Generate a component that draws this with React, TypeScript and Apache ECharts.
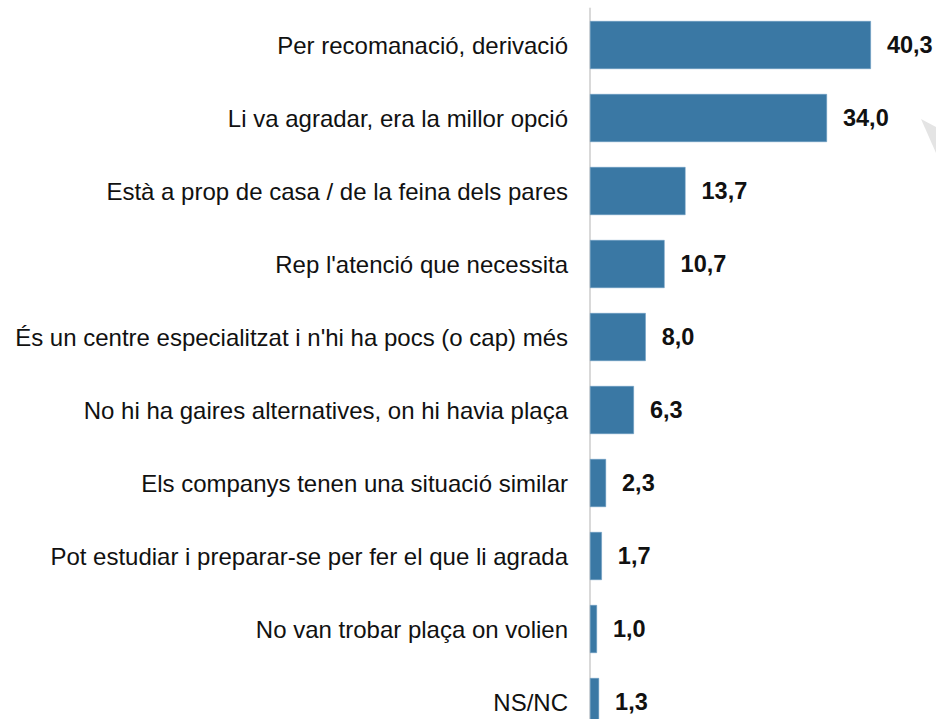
import React, { useEffect, useRef } from "react";
import * as echarts from "echarts";

const categories = [
  "Per recomanació, derivació",
  "Li va agradar, era la millor opció",
  "Està a prop de casa / de la feina dels pares",
  "Rep l'atenció que necessita",
  "És un centre especialitzat i n'hi ha pocs (o cap) més",
  "No hi ha gaires alternatives, on hi havia plaça",
  "Els companys tenen una situació similar",
  "Pot estudiar i preparar-se per fer el que li agrada",
  "No van trobar plaça on volien",
  "NS/NC",
];
const values = [40.3, 34.0, 13.7, 10.7, 8.0, 6.3, 2.3, 1.7, 1.0, 1.3];

export default function App() {
  const ref = useRef<HTMLDivElement>(null);
  useEffect(() => {
    if (!ref.current) return;
    const chart = echarts.init(ref.current, undefined, { renderer: "svg" });
    chart.setOption({
      animation: false,
      grid: {
        left: 590,
        top: 8.5,
        width: 348.5,
        height: 730,
        containLabel: false,
        outerBoundsMode: "none",
      },
      xAxis: {
        type: "value",
        min: 0,
        max: 50,
        show: false,
        splitLine: { show: false },
      },
      yAxis: {
        type: "category",
        inverse: true,
        data: categories,
        axisLine: { show: true, lineStyle: { color: "#d9d9d9", width: 2 } },
        axisTick: { show: false },
        axisLabel: {
          margin: 22,
          fontFamily: "Liberation Sans, Arial, sans-serif",
          fontSize: 24,
          color: "#111",
        },
      },
      series: [
        {
          type: "bar",
          data: values,
          barWidth: 48,
          itemStyle: { color: "#3a78a4", borderColor: "#6a9cc3", borderWidth: 0.5 },
          label: {
            show: true,
            position: "right",
            distance: 16,
            fontFamily: "Liberation Sans, Arial, sans-serif",
            fontSize: 23.5,
            fontWeight: "bold",
            color: "#111",
            formatter: (p: any) => p.value.toFixed(1).replace(".", ","),
          },
        },
      ],
      graphic: [
        {
          type: "polygon",
          shape: { points: [[921, 119], [936, 127], [936, 153]] },
          style: { fill: "#e4e4e4" },
          silent: true,
        },
      ],
    });
    return () => chart.dispose();
  }, []);
  return (
    <div
      ref={ref}
      style={{ position: "fixed", left: 0, top: 0, width: 936, height: 760, background: "#fff" }}
    />
  );
}
